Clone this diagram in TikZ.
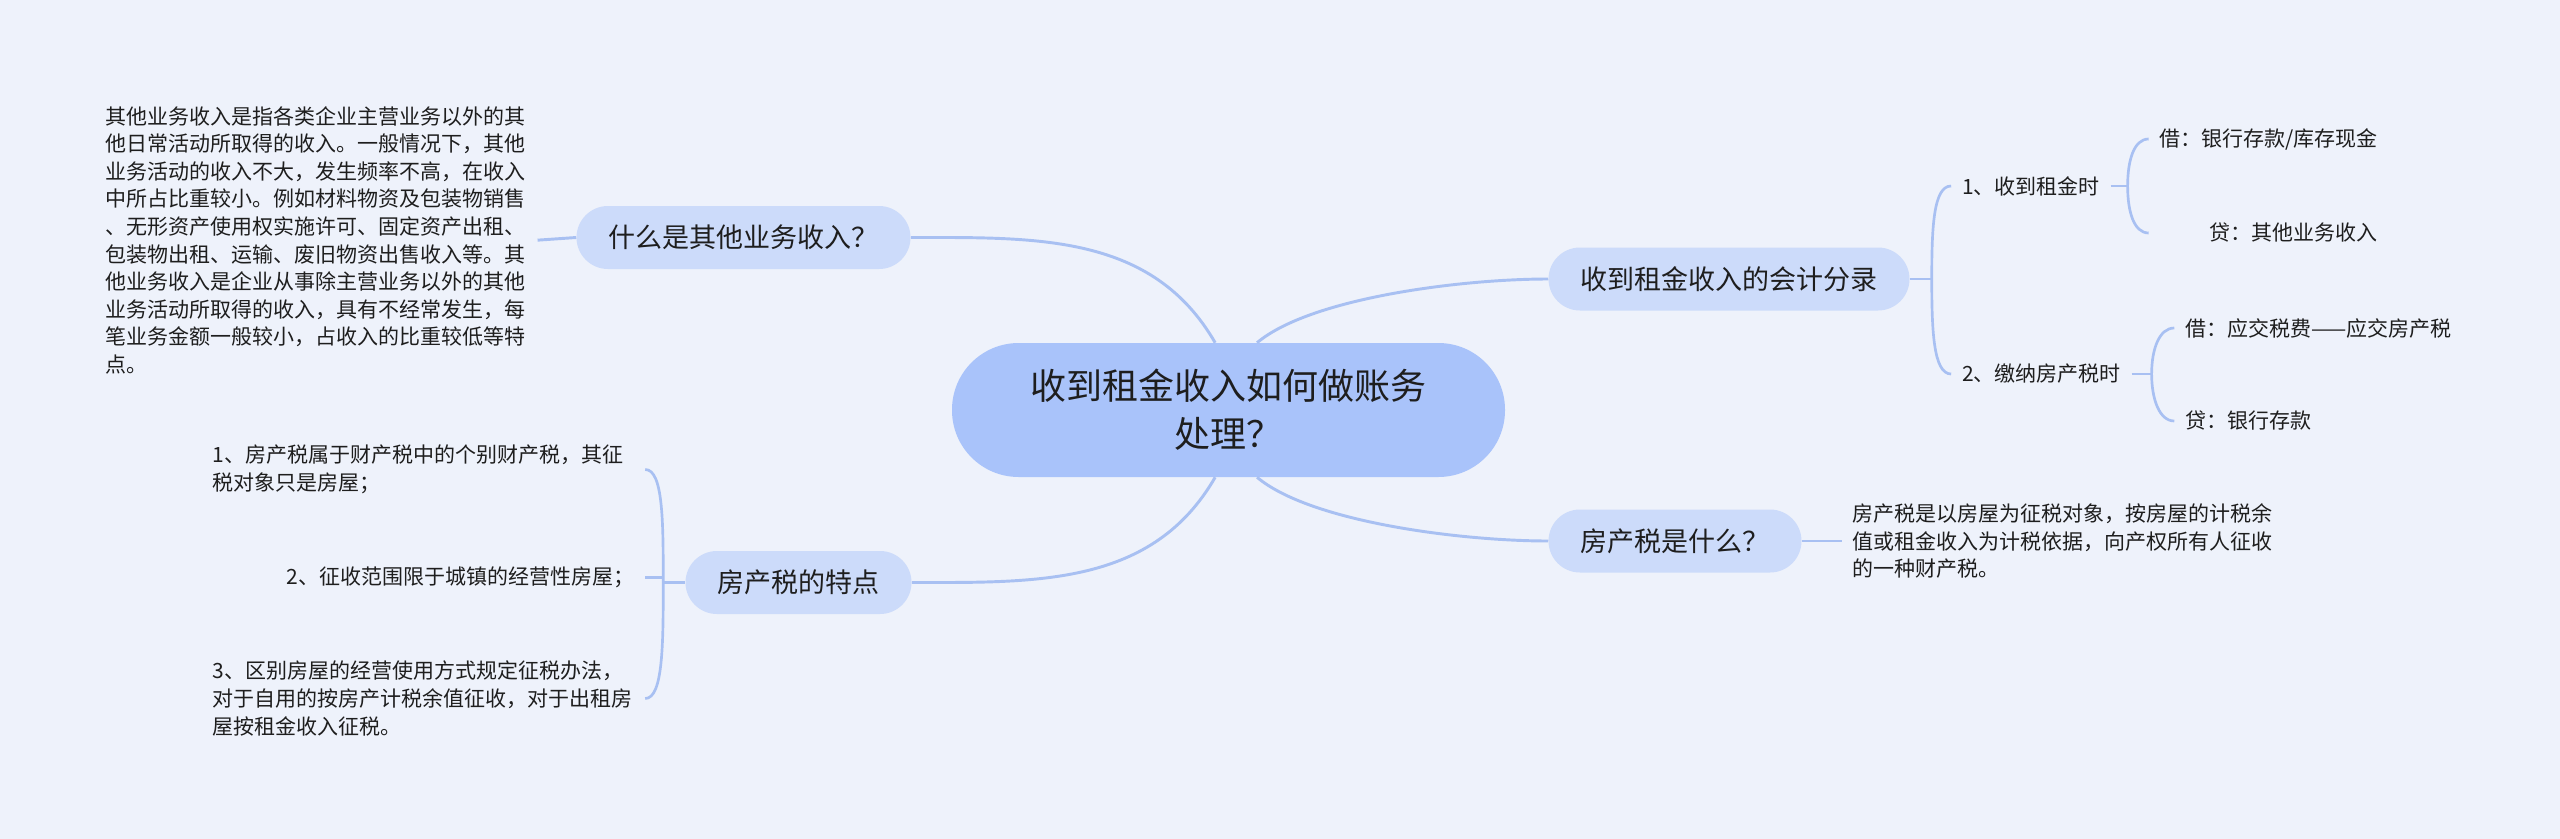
\documentclass[tikz,border=0pt]{standalone}
\usepackage{fontspec}
\setmainfont{Noto Sans CJK SC}
\usepackage{tikz}
\usetikzlibrary{positioning}
\definecolor{bgblue}{HTML}{EEF2FB}
\definecolor{rootblue}{HTML}{A9C3FA}
\definecolor{topicblue}{HTML}{CCDBFA}
\definecolor{linkblue}{HTML}{A8C0F2}
\definecolor{inkgray}{HTML}{1E1E1E}

\begin{document}
\begin{tikzpicture}[
  x=0.75pt, y=0.75pt,
  every node/.style={text=inkgray},
  root/.style={fill=rootblue, rounded corners=50pt, minimum width=414.75pt, minimum height=100.5pt, align=center, font=\fontsize{27pt}{36pt}\selectfont},
  topic/.style={fill=topicblue, rounded corners=23.6pt, minimum height=47.25pt, inner xsep=24pt, font=\fontsize{20.25pt}{24pt}\selectfont},
  leaf/.style={inner xsep=8pt, inner ysep=2pt, font=\fontsize{15.75pt}{20.7pt}\selectfont},
  leafbox/.style={leaf, text width=316pt, align=left},
  link/.style={draw=linkblue, line width=2.2pt},
  brace/.style={link, line width=2pt}
]
\fill[bgblue] (0,0) rectangle (2560,-839);
\useasboundingbox (0,0) rectangle (2560,-839);

\node[root] (root) at (1228.5,-410) {收到租金收入如何做账务\\处理？};
\node[topic] (other) at (743.5,-237.5) {什么是其他业务收入？};
\node[topic] (entry) at (1729,-279) {收到租金收入的会计分录};
\node[topic] (whatis) at (1675,-541) {房产税是什么？};
\node[topic] (feature) at (798.5,-582.5) {房产税的特点};

\node[leafbox, left=29pt of other, yshift=-2pt] (otherdesc) {其他业务收入是指各类企业主营业务以外的其\\他日常活动所取得的收入。一般情况下，其他\\业务活动的收入不大，发生频率不高，在收入\\中所占比重较小。例如材料物资及包装物销售\\、无形资产使用权实施许可、固定资产出租、\\包装物出租、运输、废旧物资出售收入等。其\\他业务收入是企业从事除主营业务以外的其他\\业务活动所取得的收入，具有不经常发生，每\\笔业务金额一般较小，占收入的比重较低等特\\点。};
\node[leafbox, right=30pt of whatis] (whatisdesc) {房产税是以房屋为征税对象，按房屋的计税余\\值或租金收入为计税依据，向产权所有人征收\\的一种财产税。};

\node[leaf, right=31pt of entry, yshift=69.75pt] (rent1) {1、收到租金时};
\node[leaf, right=31pt of entry, yshift=-71.25pt] (rent2) {2、缴纳房产税时};
\node[leaf, right=28.5pt of rent1, yshift=35.25pt] (dr1) {借：银行存款/库存现金};
\node[leaf, right=28.5pt of rent1, yshift=-35.25pt, text width=163.5pt, align=right] (cr1) {贷：其他业务收入};
\node[leaf, right=32pt of rent2, yshift=34.5pt] (dr2) {借：应交税费——应交房产税};
\node[leaf, right=32pt of rent2, yshift=-35.25pt] (cr2) {贷：银行存款};

\node[leafbox, left=30pt of feature, yshift=84.75pt] (feat1) {1、房产税属于财产税中的个别财产税，其征\\税对象只是房屋；};
\node[leaf, left=30pt of feature, yshift=4pt] (feat2) {2、征收范围限于城镇的经营性房屋；};
\node[leafbox, left=30pt of feature, yshift=-87pt] (feat3) {3、区别房屋的经营使用方式规定征税办法，\\对于自用的按房产计税余值征收，对于出租房\\屋按租金收入征税。};

\coordinate (entryfork) at ([xshift=16.5pt]entry.east);
\coordinate (rent1fork) at ([xshift=12.75pt]rent1.east);
\coordinate (rent2fork) at ([xshift=15pt]rent2.east);
\coordinate (featfork) at ([xshift=-16.5pt]feature.west);

\draw[link] ([xshift=-10pt]root.north) to[out=120,in=0] (other.east);
\draw[link] ([xshift=21.4pt]root.north) to[out=40,in=180,out looseness=0.6,in looseness=0.75] (entry.west);
\draw[link] ([xshift=21.4pt]root.south) to[out=-40,in=180,out looseness=0.6,in looseness=0.75] (whatis.west);
\draw[link] ([xshift=-10pt]root.south) to[out=-120,in=0] (feature.east);

\draw[link] (other.west) -- (otherdesc.east);
\draw[link] (whatis.east) -- (whatisdesc.west);
\draw[link] (entry.east) -- (entryfork);
\draw[link] (rent1.east) -- (rent1fork);
\draw[link] (rent2.east) -- (rent2fork);
\draw[link] (feature.west) -- (featfork);
\draw[link] (feat2.east) -- (feat2.east -| featfork);

\draw[brace] (rent1.west) .. controls +(-18,0) and +(0,50) .. (entryfork) .. controls +(0,-50) and +(-18,0) .. (rent2.west);
\draw[brace] (dr1.west) .. controls +(-15,0) and +(0,25) .. (rent1fork) .. controls +(0,-25) and +(-15,0) .. (cr1.west);
\draw[brace] (dr2.west) .. controls +(-15,0) and +(0,25) .. (rent2fork) .. controls +(0,-25) and +(-15,0) .. (cr2.west);
\draw[brace] (feat1.east) .. controls +(18,0) and +(0,60) .. (featfork) .. controls +(0,-60) and +(18,0) .. (feat3.east);
\end{tikzpicture}
\end{document}
